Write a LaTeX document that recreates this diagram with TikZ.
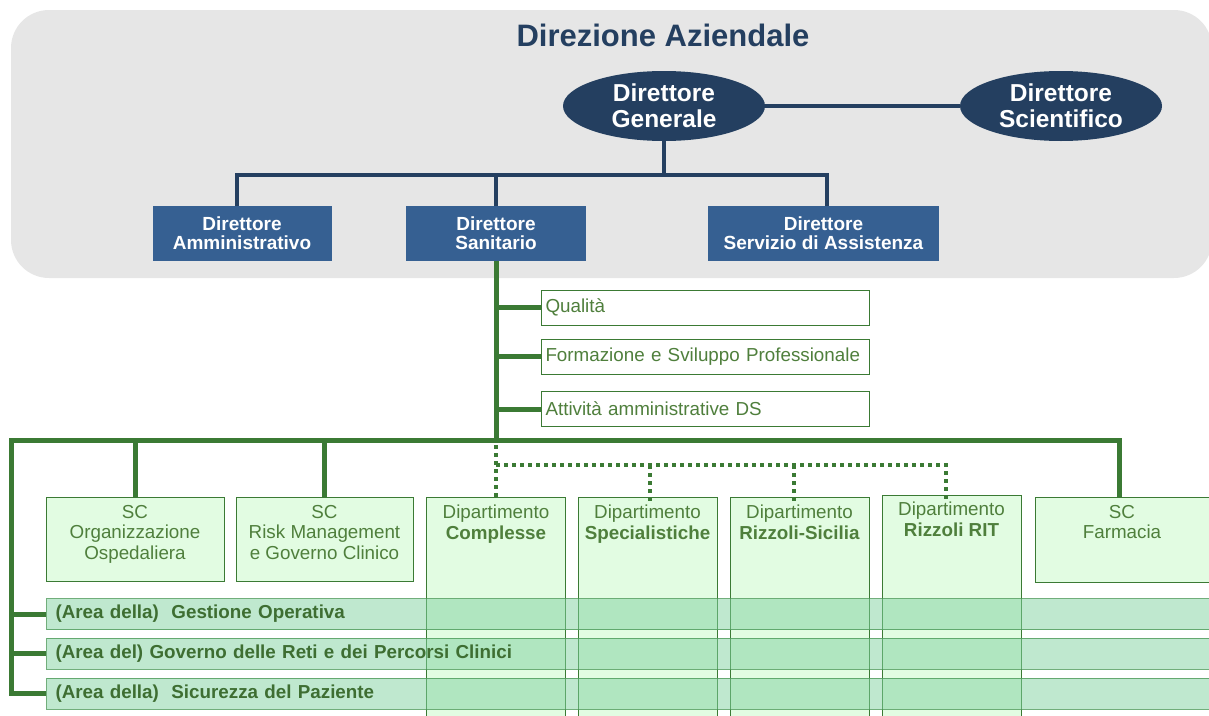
\documentclass[tikz,border=0pt]{standalone}
\usepackage{fontspec}
\setmainfont{Liberation Sans}
\usetikzlibrary{shapes.geometric}
\definecolor{bggray}{HTML}{E6E6E6}
\definecolor{navy}{HTML}{243F60}
\definecolor{boxblue}{HTML}{366092}
\definecolor{lgreen}{HTML}{3B7A34}
\definecolor{tgreen}{HTML}{4F7F3C}
\definecolor{bgreen}{HTML}{3E6E32}
\definecolor{colfill}{HTML}{E2FCE2}
\definecolor{barcol}{HTML}{7FD2A0}
\definecolor{bdgreen}{HTML}{4E9A5A}
\begin{document}
\begin{tikzpicture}[x=1pt,y=-1pt,
  ell/.style={ellipse, fill=navy, text=white, font=\bfseries\fontsize{24.5}{26}\selectfont,
    minimum width=202pt, minimum height=70pt, inner sep=0pt, align=center},
  bluebox/.style={rectangle, fill=boxblue, text=white, font=\bfseries\fontsize{19}{19}\selectfont,
    align=center, minimum height=55pt, inner sep=0pt},
  navyline/.style={draw=navy, line width=4pt},
  gline/.style={draw=lgreen, line width=5pt},
  dotline/.style={draw=lgreen, line width=4pt, dash pattern=on 4pt off 4pt},
  sidebox/.style={rectangle, draw=lgreen, line width=1pt, fill=white, text=tgreen,
    font=\fontsize{18.8}{19}\selectfont, minimum height=35pt, text width=320pt,
    inner xsep=4pt, inner ysep=0pt, align=left, anchor=west},
  colbox/.style={rectangle, draw=lgreen, line width=1pt, fill=colfill, inner sep=0pt},
  coltext/.style={anchor=north, text=tgreen, font=\fontsize{18.8}{20.5}\selectfont,
    align=center, inner sep=0pt},
  bar/.style={rectangle, draw=bdgreen, line width=1pt, fill=barcol, fill opacity=0.5,
    text opacity=1, draw opacity=0.8, text=bgreen, font=\bfseries\fontsize{18.8}{19}\selectfont,
    minimum height=31pt, text width=1150pt, inner xsep=9pt, inner ysep=0pt, align=left, anchor=west}
]
\useasboundingbox (0,0) rectangle (1209,715);
\clip (0,0) rectangle (1209,715);

% background
\fill[bggray, rounded corners=38pt] (11,10) rectangle (1212,278);

% title
\node[font=\bfseries\fontsize{31}{32}\selectfont, text=navy] (title) at (663,35) {Direzione Aziendale};

% top level
\node[ell] (dg) at (664,106) {Direttore\\Generale};
\node[ell] (dsc) at (1061,106) {Direttore\\Scientifico};
\draw[navyline] (dg) -- (dsc);

\node[bluebox, minimum width=179pt] (da) at (242,233.5) {Direttore\\Amministrativo};
\node[bluebox, minimum width=180pt] (dsan) at (496,233.5) {Direttore\\Sanitario};
\node[bluebox, minimum width=231pt] (dsa) at (823.5,233.5) {Direttore\\Servizio di Assistenza};

\coordinate (dgj) at (664,175);
\coordinate (hL) at (237,175);
\coordinate (hR) at (827,175);
\draw[navyline] (dg.south) -- (dgj);
\draw[navyline] (hL |- da.north) -- (hL) -- (hR) -- (hR |- dsa.north);
\draw[navyline] (dsan.north) -- (dsan.north |- hL);

% staff boxes
\node[sidebox] (q) at (541,307.5) {Qualità};
\node[sidebox] (f) at (541,356.5) {Formazione e Sviluppo Professionale};
\node[sidebox] (at) at (541,409) {Attività amministrative DS};

\coordinate (gj) at (496,440);
\coordinate (gL) at (11,440);
\coordinate (gR) at (1119,440);
\coordinate (dj) at (496,465);
\coordinate (d2) at (650,465);
\coordinate (d3) at (794,465);
\coordinate (d4) at (946,465);

% lower boxes
\node[colbox, minimum width=178pt, minimum height=84pt] (org) at (135,539) {};
\node[colbox, minimum width=177pt, minimum height=84pt] (risk) at (324.5,539) {};
\node[colbox, minimum width=175pt, minimum height=85pt] (farm) at (1122.5,539.5) {};
\node[colbox, minimum width=139pt, minimum height=224pt] (comp) at (496,609) {};
\node[colbox, minimum width=139pt, minimum height=224pt] (spec) at (647.5,609) {};
\node[colbox, minimum width=139pt, minimum height=224pt] (sic) at (799.5,609) {};
\node[colbox, minimum width=139pt, minimum height=226pt] (rit) at (951.5,608) {};

\node[coltext] (torg) at (135,505) {SC\\Organizzazione\\Ospedaliera};
\node[coltext] (trisk) at (324.5,505) {SC\\Risk Management\\e Governo Clinico};
\node[coltext] (tfarm) at (1122,505) {SC\\Farmacia};
\node[coltext] (tcomp) at (496,505) {Dipartimento\\\textbf{Complesse}};
\node[coltext] (tspec) at (647.5,505) {Dipartimento\\\textbf{Specialistiche}};
\node[coltext] (tsic) at (799.5,505) {Dipartimento\\\textbf{Rizzoli-Sicilia}};
\node[coltext] (trit) at (951.5,502) {Dipartimento\\\textbf{Rizzoli RIT}};

% area bars
\node[bar] (a1) at (46,614) {(Area della)~ Gestione Operativa};
\node[bar] (a2) at (46,653.5) {(Area del) Governo delle Reti e dei Percorsi Clinici};
\node[bar] (a3) at (46,693.5) {(Area della)~ Sicurezza del Paziente};

% green connectors
\draw[gline] (dsan.south) -- (gj);
\draw[gline] (q.west -| gj) -- (q.west);
\draw[gline] (f.west -| gj) -- (f.west);
\draw[gline] (at.west -| gj) -- (at.west);
\draw[gline] (a3.west) -| (gL) -- (gR) -- (gR |- farm.north);
\draw[gline] (a1.west -| gL) -- (a1.west);
\draw[gline] (a2.west -| gL) -- (a2.west);
\draw[gline] (org.north |- gL) -- (org.north);
\draw[gline] (risk.north |- gL) -- (risk.north);

% dotted connectors
\draw[dotline] ([yshift=3pt]gj) -- (comp.north);
\draw[dotline] (dj) -- (d4) -- ([yshift=-5pt]d4 |- rit.north);
\draw[dotline] (d2) -- ([yshift=-5pt]d2 |- spec.north);
\draw[dotline] (d3) -- ([yshift=-5pt]d3 |- sic.north);
\end{tikzpicture}
\end{document}
